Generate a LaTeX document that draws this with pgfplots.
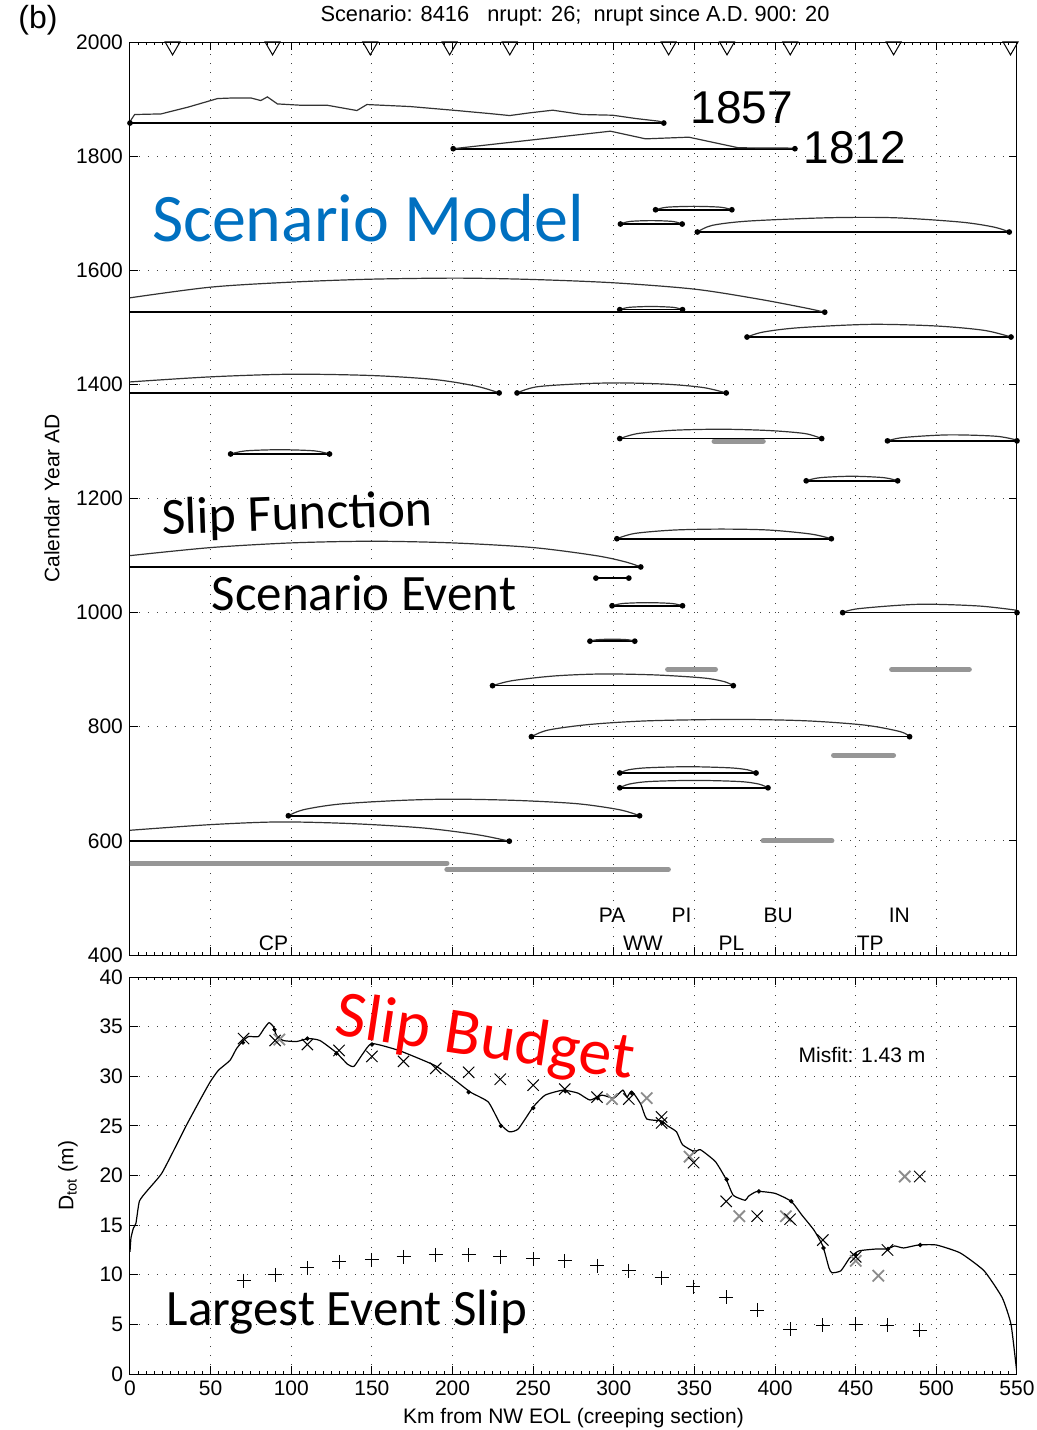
\documentclass[border=0pt]{standalone}
\usepackage{fontspec}
\setmainfont{Liberation Sans}
\newfontfamily\carlito{Carlito}
\usepackage{pgfplots}
\pgfplotsset{compat=1.18}
\definecolor{bargray}{RGB}{150,150,150}
\definecolor{xgray}{RGB}{140,140,140}
\definecolor{modelblue}{RGB}{0,112,192}
\pgfplotsset{
  evline/.style={black, line width=0.8pt, mark=*, mark size=1pt, mark options={solid}},
  arc/.style={black!80, line width=0.6pt, smooth, no marks},
  arcl/.style={black!80, line width=0.6pt, no marks},
  gbar/.style={bargray, line width=2.6pt, line cap=round, no marks},
  common/.style={
    scale only axis, width=443.5pt,
    xmin=0, xmax=550,
    xtick={0,50,...,550}, minor x tick num=9,
    grid=major,
    major grid style={black!75, line width=0.5pt, dash pattern=on 0.6pt off 3.9pt},
    axis line style={line width=0.5pt},
    tick style={black, line width=0.5pt},
    major tick length=4pt, minor tick length=1.5pt,
    tick align=inside,
    /pgf/number format/assume math mode=true,
    /pgf/number format/1000 sep={},
    ticklabel style={font=\fontsize{10.5}{12}\selectfont},
    label style={font=\fontsize{10.5}{12}\selectfont},
  },
}
\begin{document}
\begin{tikzpicture}
\path[use as bounding box] (0pt,0pt) rectangle (518.5pt,-715pt);
% ---------------- top panel ----------------
\begin{axis}[common,
  at={(65pt,-477.5pt)}, anchor=south west, height=456.5pt,
  ymin=400, ymax=2000, ytick={400,600,...,2000},
  xticklabels={},
  ylabel={Calendar Year AD},
  ylabel style={at={(axis description cs:-0.088,0.5)}, anchor=center},
]
% triangles
\addplot[only marks, mark=triangle, mark size=4.3pt, mark options={rotate=180, fill=white, draw=black, line width=0.5pt}]
  coordinates {(26.4,1992.5) (88.4,1992.5) (149,1992.5) (198.2,1992.5) (235.5,1992.5) (334,1992.5) (370.2,1992.5) (409.4,1992.5) (473.5,1992.5) (546,1992.5)};
% 1857
\addplot[evline] coordinates {(0,1858) (331,1858)};
\addplot[arcl] coordinates {(0,1858) (0.8,1864.1) (2.9,1872.9) (19.3,1874.0) (35.8,1885.7) (54.3,1900.9) (64.6,1902.0) (74.9,1902.0) (81.1,1897.4) (85.2,1903.8) (91.4,1891.5) (105.8,1889.2) (122.2,1889.2) (140.7,1879.9) (146.9,1890.4) (173.7,1886.9) (202.5,1879.9) (223.0,1874.6) (235.4,1871.1) (247.7,1875.8) (262.1,1880.5) (280.6,1872.9) (299.2,1871.7) (313.6,1865.9) (328.0,1861.2) (331,1858)};
% 1812
\addplot[evline] coordinates {(200.4,1813) (412.3,1813)};
\addplot[arcl] coordinates {(200.4,1813) (297.9,1843.7) (319.7,1830.3) (346.5,1833.2) (377.3,1814.6) (412.3,1814)};
% A
\addplot[evline] coordinates {(325.9,1706) (373.2,1706)};
\addplot[arc] coordinates {(325.9,1706) (333.0,1710.5) (349.6,1712) (366.1,1710.5) (373.2,1706)};
% B
\addplot[evline] coordinates {(304.1,1681) (342.4,1681)};
\addplot[arc] coordinates {(304.1,1681) (309.8,1685.5) (323.2,1687) (336.6,1685.5) (342.4,1681)};
% C
\addplot[evline] coordinates {(351.8,1667) (545.2,1667)};
\addplot[arc] coordinates {(351.8,1667) (360.9,1678.6) (383.5,1686.2) (432.9,1692) (474,1692) (515.2,1684.4) (535.8,1675.6) (545.2,1667)};
% D
\addplot[evline, mark indices={2}] coordinates {(0,1526.5) (430.8,1526.5)};
\addplot[arc] coordinates {(0,1551.7) (50,1570.4) (100,1579.2) (150,1584.4) (203.7,1586.2) (250,1583.8) (300,1578.0) (350,1566.9) (388.9,1549.9) (418.5,1534.1) (430.8,1526.5)};
% E
\addplot[evline] coordinates {(303.7,1531) (342.6,1531)};
\addplot[arc] coordinates {(303.7,1531) (309.5,1535) (323.2,1536.5) (336.8,1535) (342.6,1531)};
% F
\addplot[evline] coordinates {(382.6,1483) (546.3,1483)};
\addplot[arc] coordinates {(382.6,1483) (392.6,1491.7) (414.8,1499.3) (459.3,1505.2) (500,1502.3) (529.6,1494.7) (546.3,1483)};
% G
\addplot[evline, mark indices={2}] coordinates {(0,1385) (228.9,1385)};
\addplot[arc] coordinates {(0,1404.3) (50,1413.2) (100,1417.8) (150,1415.5) (188.9,1408.5) (214.8,1396.8) (228.9,1385)};
% H
\addplot[evline] coordinates {(240,1385) (369.7,1385)};
\addplot[arc] coordinates {(240,1385) (251.9,1395.6) (277.8,1400.8) (303.7,1402.6) (333.4,1400.2) (355.6,1394.4) (369.7,1385)};
% I
\addplot[gbar] coordinates {(362.2,1300.5) (392.6,1300.5)};
\addplot[evline] coordinates {(303.7,1305) (428.9,1305)};
\addplot[arc] coordinates {(303.7,1305) (314.8,1313.8) (337,1319.6) (366.7,1321.4) (396.3,1319.1) (418.5,1313.8) (428.9,1305)};
% J
\addplot[evline] coordinates {(469.7,1301) (550,1301)};
\addplot[arc] coordinates {(469.7,1301) (479.6,1306.9) (507.5,1311.5) (537.1,1309.1) (550,1302.2)};
% K
\addplot[evline] coordinates {(62.4,1278) (123.7,1278)};
\addplot[arc] coordinates {(62.4,1278) (71.7,1283.5) (93,1285.5) (114.4,1283.5) (123.7,1278)};
% L
\addplot[evline] coordinates {(419.3,1231) (476,1231)};
\addplot[arc] coordinates {(419.3,1231) (427.8,1236.5) (447.7,1239) (467.5,1236.5) (476,1231)};
% M
\addplot[evline] coordinates {(301.9,1129.5) (434.9,1129.5)};
\addplot[arc] coordinates {(301.9,1129.5) (313,1138.8) (337.1,1144.7) (366.7,1146.4) (396.3,1144.7) (422.2,1137.7) (434.9,1129.5)};
% N
\addplot[evline, mark indices={2}] coordinates {(0,1080) (316.7,1080)};
\addplot[arc] coordinates {(0,1099.9) (50,1114) (100,1122.2) (150,1125.1) (200,1122.2) (250,1114) (288.9,1099.9) (307.4,1088.8) (316.7,1080)};
% O
\addplot[evline] coordinates {(288.9,1060.5) (309.3,1060.5)};
% P
\addplot[evline] coordinates {(298.9,1012) (342.6,1012)};
\addplot[arc] coordinates {(298.9,1012) (305.5,1016) (320.8,1017.5) (336,1016) (342.6,1012)};
% Q
\addplot[evline] coordinates {(441.9,1000) (550,1000)};
\addplot[arc] coordinates {(441.9,1000) (451.9,1007) (488.9,1014.6) (525.9,1011.7) (550,1004.1)};
% R
\addplot[evline] coordinates {(285.2,950) (313,950)};
\addplot[arc] coordinates {(285.2,950) (289.4,952.5) (299.1,953.5) (308.8,952.5) (313,950)};
% gray 900
\addplot[gbar] coordinates {(333.4,900.5) (363,900.5)};
\addplot[gbar] coordinates {(472.3,900.5) (520.4,900.5)};
% S
\addplot[evline] coordinates {(224.8,872) (374.1,872)};
\addplot[arc] coordinates {(224.8,872) (237.1,880.8) (263,889) (292.6,892.5) (325.9,890.8) (355.6,885.5) (368.5,879.1) (374.1,872)};
% T
\addplot[evline] coordinates {(248.9,782.6) (483.4,782.6)};
\addplot[arc] coordinates {(248.9,782.6) (259.3,794.2) (285.2,804.1) (322.2,810.5) (374.1,812.8) (418.5,810.5) (455.6,802.9) (477.8,791.3) (483.4,782.6)};
% gray 750
\addplot[gbar] coordinates {(436.3,750) (473.4,750)};
% U
\addplot[evline] coordinates {(303.7,719) (388.2,719)};
\addplot[arc] coordinates {(303.7,719) (309,724.5) (320,728) (346,730) (372,728) (383,724.5) (388.2,719)};
% V
\addplot[evline] coordinates {(303.7,693) (395.6,693)};
\addplot[arc] coordinates {(303.7,693) (309.5,699.5) (322,704) (350,706) (378,704) (390,699.5) (395.6,693)};
% W
\addplot[evline] coordinates {(98.2,644) (316,644)};
\addplot[arc] coordinates {(98.2,644) (107.4,654.5) (129.6,664.4) (166.7,670.8) (200,673.1) (240.8,670.8) (277.8,665) (303.7,654.5) (316,644)};
% X
\addplot[evline, mark indices={2}] coordinates {(0,599.5) (235.2,599.5)};
\addplot[arc] coordinates {(0,618.6) (50,628.5) (92.6,633.2) (137,630.3) (181.5,622.7) (214.8,611.1) (235.2,599.5)};
% gray bars
\addplot[gbar] coordinates {(392.6,600) (435.2,600)};
\addplot[gbar] coordinates {(0,561) (196.5,561)};
\addplot[gbar] coordinates {(196.5,550) (333.8,550)};
% site labels
\begin{scope}[every node/.style={font=\fontsize{10.5}{12}\selectfont, inner sep=0pt}]
\node at (axis cs:299,470) {PA};
\node at (axis cs:342,470) {PI};
\node at (axis cs:402,470) {BU};
\node at (axis cs:477,470) {IN};
\node at (axis cs:89,420) {CP};
\node at (axis cs:318,420) {WW};
\node at (axis cs:373,420) {PL};
\node at (axis cs:459,420) {TP};
\end{scope}
\end{axis}
% ---------------- bottom panel ----------------
\begin{axis}[common,
  at={(65pt,-687pt)}, anchor=south west, height=198.5pt,
  ymin=0, ymax=40, ytick={0,5,...,40},
  xlabel={Km from NW EOL (creeping section)},
  xlabel style={at={(axis description cs:0.5,0)}, anchor=center, yshift=-22pt},
  ylabel={D$_{\mathrm{tot}}$ (m)},
  ylabel style={at={(axis description cs:-0.07,0.5)}, anchor=center},
]
\addplot[black, line width=0.6pt, smooth, tension=0.3] coordinates {
(0,12.3) (0.6,13.7) (2.1,14.7) (3.7,15.2) (5.8,17.4) (10.3,18.4) (19.6,20.2) (28.9,23.1) (35.1,25.1) (43.4,27.6) (49.6,29.4) (54.8,30.6) (62,31.6) (66.1,32.8) (70.3,33.6) (73.4,34.0) (79.6,34.0) (83.1,34.8) (86.2,35.4) (88.9,35.0) (90.9,34.1) (95.1,33.6) (103.3,33.5) (110.6,33.8) (117.8,33.6) (127.8,32.4) (135,31.2) (138.9,31.0) (144.5,32.3) (150,33.3) (166.7,32.6) (188.9,31.1) (200,29.8) (211.1,28.4) (222.2,27.4) (229.6,25.2) (235.2,24.4) (240.8,24.7) (250,26.9) (257.4,28.1) (268.5,28.6) (277.8,28.3) (285.2,27.6) (292.6,28.1) (300,27.8) (305.6,28.6) (308.2,27.9) (311.1,28.5) (316.7,27.2) (320.4,25.7) (329.6,25.5) (333.4,25.0) (338.9,24.4) (342.6,23.1) (350,22.4) (353.7,22.6) (363,21.4) (369.7,19.6) (374.1,18.0) (381.5,17.5) (383.4,17.9) (388.9,18.4) (400,18.2) (410,17.4) (416.7,16.0) (424.1,14.5) (429.6,12.9) (433.4,10.7) (435.2,10.2) (440.8,10.4) (446.3,11.7) (451.9,12.4) (463,12.6) (469.7,12.6) (474.1,12.9) (479.7,12.7) (488.9,13.0) (500,13.0) (514.8,12.2) (529.6,10.4) (540.8,7.7) (546.3,5.0) (550,0)};
\addplot[only marks, mark=*, mark size=0.9pt, black] coordinates {
(70,33.4) (89.6,34.7) (110,33.8) (128,32.3) (150,33.2) (167,32.4) (210,28.4) (230,25.0) (250,26.8) (270,28.5) (290,27.8) (311,28.3) (330,25.3) (350,22.4) (370,19.6) (390,18.4) (410,17.4) (430,12.7) (450,12.0) (470,12.6) (490,13.0)};
\addplot[only marks, mark=x, mark size=4pt, xgray, mark options={line width=0.9pt}] coordinates {
(92.6,33.7) (298.9,27.7) (320.4,27.8) (347,21.9) (377.8,15.9) (406.7,15.9) (450,11.4) (464,9.9) (480.4,19.9)};
\addplot[only marks, mark=x, mark size=4pt, black, mark options={line width=0.5pt}] coordinates {
(70.4,33.8) (90,33.6) (110,33.2) (129.6,32.6) (150,32.0) (169.6,31.5) (189.6,30.8) (210,30.4) (229.6,29.7) (250,29.1) (269.6,28.7) (289.6,27.9) (309.3,27.7) (329.6,25.9) (329.6,25.3) (349.5,21.3) (369.7,17.4) (388.9,15.9) (409.3,15.6) (429.6,13.5) (450,11.8) (469.7,12.5) (489.7,19.9)};
\addplot[only marks, mark=+, mark size=3.5pt, black, mark options={line width=0.5pt}] coordinates {
(70.4,9.4) (90,10.0) (110,10.7) (129.6,11.3) (150,11.5) (169.6,11.8) (189.6,12.0) (210,12.0) (229.6,11.8) (250,11.6) (269.6,11.4) (289.6,10.9) (309.3,10.4) (329.6,9.7) (349.3,8.8) (369.7,7.75) (388.9,6.4) (409.3,4.5) (429.6,4.9) (450,5.0) (469.7,4.9) (489.7,4.4)};
\end{axis}
% ---------------- overlay texts ----------------
\node[font=\fontsize{10.9}{13}\selectfont] at (287.5pt,-8pt) {Scenario: 8416\ \ \ nrupt: 26;\ \ nrupt since A.D. 900: 20};
\node[font=\fontsize{16}{18}\selectfont] at (19pt,-10pt) {(b)};
\node[font=\fontsize{23}{26}\selectfont] at (371pt,-54pt) {1857};
\node[font=\fontsize{23}{26}\selectfont] at (427.5pt,-74pt) {1812};
\node[font=\carlito\fontsize{34}{38}\selectfont, text=modelblue] at (184pt,-109pt) {Scenario Model};
\node[font=\carlito\fontsize{26}{30}\selectfont, rotate=2] at (148.5pt,-258pt) {Slip Function};
\node[font=\carlito\fontsize{25.5}{30}\selectfont] at (182pt,-296.5pt) {Scenario Event};
\node[font=\carlito\fontsize{33}{38}\selectfont, text=red, rotate=-8.5] at (242.5pt,-520pt) {Slip Budget};
\node[font=\fontsize{10.5}{12}\selectfont] at (431pt,-527.5pt) {Misfit: 1.43 m};
\node[font=\carlito\fontsize{25.5}{30}\selectfont] at (173.5pt,-656pt) {Largest Event Slip};
\end{tikzpicture}
\end{document}
